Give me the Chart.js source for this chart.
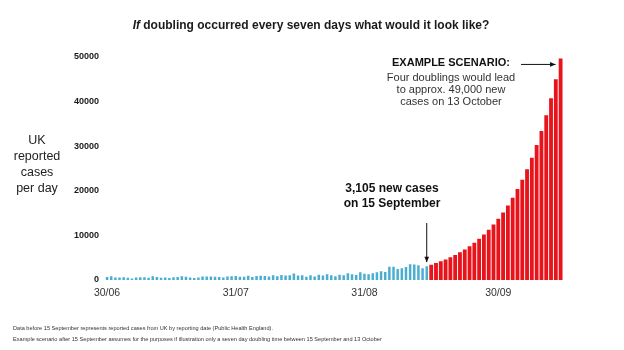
<!DOCTYPE html>
<html>
<head>
<meta charset="utf-8">
<script src="https://cdn.jsdelivr.net/npm/chart.js@4.4.0/dist/chart.umd.min.js"></script>
<style>
  html, body { margin: 0; padding: 0; background: #fff; }
  #wrap { width: 624px; height: 350px; }
</style>
</head>
<body>
<div id="wrap"><canvas id="casesChart" width="624" height="350"></canvas></div>
<script>
// Reported UK cases per day, 30 June to 15 September
const reportedCases = [
    689,
    829, 576, 544, 624, 516, 352, 581, 630, 612, 512, 820, 650, 530, 538, 463,
    642, 687, 827, 726, 580, 445, 560, 769, 768, 767, 747, 685, 581, 763, 846, 880,
    743, 744, 938, 670, 892, 950, 871, 758, 1062, 816, 1148, 1009, 1089, 1441, 1012,
    1040, 713, 1089, 812, 1182, 1033, 1288, 1041, 853, 1184, 1048, 1522, 1276, 1108, 1715, 1406,
    1295, 1508, 1735, 1940, 1813, 2988, 2948, 2460, 2659, 2919, 3539, 3497, 3330, 2621, 3105
];

// Example scenario, 16 September to 13 October (doubling every seven days)
const scenarioCases = [
    3428, 3785, 4179, 4614, 5094, 5625, 6210,
    6856, 7570, 8358, 9228, 10189, 11250, 12420,
    13713, 15140, 16717, 18457, 20378, 22500, 24840,
    27426, 30281, 33434, 36915, 40757, 45000, 49680
];

const shownDates = ['30/06', '31/07', '31/08', '30/09'];
const yTicks = [0, 10000, 20000, 30000, 40000, 50000];

// dd/mm labels, one per day
function dayLabels(from, count) {
    const out = [];
    for (let i = 0; i < count; i++) {
        const d = new Date(from.getFullYear(), from.getMonth(), from.getDate() + i);
        out.push(String(d.getDate()).padStart(2, '0') + '/' + String(d.getMonth() + 1).padStart(2, '0'));
    }
    return out;
}
const reportedDays = dayLabels(new Date(2020, 5, 30), reportedCases.length);
const scenarioDays = dayLabels(new Date(2020, 8, 16), scenarioCases.length);

const FONT = "'Liberation Sans', Arial, sans-serif";

function arrow(ctx, x1, y1, x2, y2) {
    const a = Math.atan2(y2 - y1, x2 - x1);
    ctx.beginPath();
    ctx.moveTo(x1, y1);
    ctx.lineTo(x2, y2);
    ctx.stroke();
    ctx.beginPath();
    ctx.moveTo(x2, y2);
    ctx.lineTo(x2 - 6 * Math.cos(a - 0.4), y2 - 6 * Math.sin(a - 0.4));
    ctx.lineTo(x2 - 6 * Math.cos(a + 0.4), y2 - 6 * Math.sin(a + 0.4));
    ctx.closePath();
    ctx.fill();
}

// reported days on the left part of the plot, scenario days (a bit wider) on the right
const splitAxes = {
    id: 'splitAxes',
    afterLayout(chart) {
        const area = chart.chartArea;
        const split = area.left + (area.right - area.left) * 0.707;
        const x = chart.scales.x;
        const x2 = chart.scales.x2;
        x.left = area.left;
        x.right = split;
        x.width = split - area.left;
        x2.left = split;
        x2.right = area.right;
        x2.width = area.right - split;
        x2.top = x.top;
        x2.bottom = x.bottom;
        x2.height = x.height;
        x.configure();
        x2.configure();
    }
};

// title, axis caption, callouts and notes
const annotations = {
    id: 'annotations',
    afterDraw(chart) {
        const ctx = chart.ctx;
        const xs = chart.scales.x;
        const x2s = chart.scales.x2;
        const ys = chart.scales.y;
        ctx.save();
        ctx.fillStyle = '#1a1a1a';
        ctx.strokeStyle = '#1a1a1a';
        ctx.textBaseline = 'middle';

        // title with italic "If"
        const first = 'If';
        const rest = ' doubling occurred every seven days what would it look like?';
        ctx.font = 'italic bold 12px ' + FONT;
        const w1 = ctx.measureText(first).width;
        ctx.font = 'bold 12px ' + FONT;
        const w2 = ctx.measureText(rest).width;
        const tx = 311 - (w1 + w2) / 2;
        ctx.textAlign = 'left';
        ctx.font = 'italic bold 12px ' + FONT;
        ctx.fillText(first, tx, 26);
        ctx.font = 'bold 12px ' + FONT;
        ctx.fillText(rest, tx + w1, 26);

        // y axis caption
        ctx.textAlign = 'center';
        ctx.font = '12.5px ' + FONT;
        ctx.fillStyle = '#222';
        ['UK', 'reported', 'cases', 'per day'].forEach((t, i) => ctx.fillText(t, 37, 141 + i * 15.7));

        // 15 September callout
        const xSep = xs.getPixelForValue(reportedCases.length - 1);
        ctx.fillStyle = '#111';
        ctx.font = 'bold 12px ' + FONT;
        ctx.fillText('3,105 new cases', 392, 189);
        ctx.fillText('on 15 September', 392, 204);
        ctx.lineWidth = 1;
        ctx.strokeStyle = '#111';
        arrow(ctx, xSep, 223, xSep, ys.getPixelForValue(reportedCases[reportedCases.length - 1]) - 4);

        // scenario callout
        ctx.font = 'bold 11px ' + FONT;
        ctx.fillText('EXAMPLE SCENARIO:', 451, 63);
        ctx.font = '11px ' + FONT;
        ctx.fillStyle = '#333';
        ctx.fillText('Four doublings would lead', 451, 77.5);
        ctx.fillText('to approx. 49,000 new', 451, 90);
        ctx.fillText('cases on 13 October', 451, 102);
        const yTop = ys.getPixelForValue(scenarioCases[scenarioCases.length - 1]) + 6;
        ctx.fillStyle = '#111';
        arrow(ctx, 521, yTop, x2s.getPixelForValue(scenarioCases.length - 1) - 5, yTop);

        // notes
        ctx.textAlign = 'left';
        ctx.font = '5.6px ' + FONT;
        ctx.fillStyle = '#333';
        ctx.fillText('Data before 15 September represents reported cases from UK by reporting date (Public Health England).', 13, 328);
        ctx.fillText('Example scenario after 15 September assumes for the purposes if illustration only a seven day doubling time between 15 September and 13 October', 13, 339);
        ctx.restore();
    }
};

const dateTicks = {
    autoSkip: false,
    maxRotation: 0,
    padding: 7,
    color: '#333',
    font: { family: FONT, size: 10.5 },
    callback: function(value) {
        const l = this.getLabelForValue(value);
        return shownDates.includes(l) ? l : '';
    }
};

new Chart(document.getElementById('casesChart'), {
    type: 'bar',
    data: {
        datasets: [{
            data: reportedCases,
            xAxisID: 'x',
            backgroundColor: '#4aaed0',
            barPercentage: 0.6,
            categoryPercentage: 1,
            grouped: false
        }, {
            data: scenarioCases,
            xAxisID: 'x2',
            backgroundColor: '#e8141b',
            barPercentage: 0.8,
            categoryPercentage: 1,
            grouped: false
        }]
    },
    options: {
        responsive: false,
        animation: false,
        layout: { padding: { top: 57, right: 61, left: 0, bottom: 0 } },
        plugins: {
            legend: { display: false },
            tooltip: { enabled: false }
        },
        scales: {
            x: {
                type: 'category',
                labels: reportedDays,
                position: 'bottom',
                grid: { display: false, drawTicks: false },
                border: { display: false },
                ticks: dateTicks,
                afterFit: (scale) => { scale.height = 70; }
            },
            x2: {
                type: 'category',
                labels: scenarioDays,
                position: 'bottom',
                grid: { display: false, drawTicks: false },
                border: { display: false },
                ticks: dateTicks,
                afterFit: (scale) => { scale.height = 0; }
            },
            y: {
                min: 0,
                max: 50000,
                grid: { display: false, drawTicks: false },
                border: { display: false },
                afterBuildTicks: (scale) => { scale.ticks = yTicks.map(v => ({ value: v })); },
                ticks: {
                    padding: 6,
                    color: '#1a1a1a',
                    font: { family: FONT, size: 9, weight: 'bold' },
                    callback: (v) => String(v)
                },
                afterFit: (scale) => { scale.width = 105; }
            }
        }
    },
    plugins: [splitAxes, annotations]
});
</script>
</body>
</html>
